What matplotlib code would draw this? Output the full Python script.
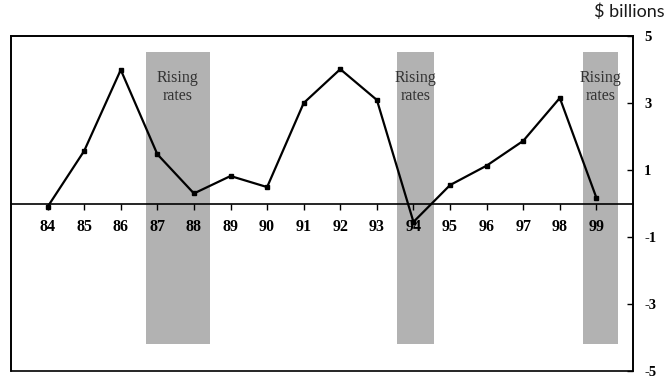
import matplotlib
matplotlib.use("Agg")
import matplotlib.pyplot as plt
from matplotlib.patches import Rectangle

# data
years = [84, 85, 86, 87, 88, 89, 90, 91, 92, 93, 94, 95, 96, 97, 98, 99]
values = [-0.1, 1.57, 3.99, 1.47, 0.3, 0.82, 0.49, 3.0, 4.01, 3.09,
          -0.55, 0.55, 1.13, 1.87, 3.15, 0.17]
year_labels = [str(y) for y in years]
rising_periods = [(86.68, 88.43), (93.56, 94.55), (98.62, 99.6)]
band_low, band_high = -4.19, 4.52
y_ticks = [5, 3, 1, -1, -3, -5]

serif = ["Liberation Serif", "DejaVu Serif"]

fig = plt.figure(figsize=(6.67, 3.81), dpi=100)
ax = fig.add_axes([11 / 667, 1 - 371 / 381, (633 - 11) / 667, (371 - 36) / 381])

for start, end in rising_periods:
    ax.fill_between([start, end], band_low, band_high, color="#b2b2b2", lw=0, zorder=1)
    ax.text((start + end) / 2, 3.48, "Rising\nrates", ha="center", va="center",
            family=serif, fontsize=11.5, color="#333333", linespacing=1.1, zorder=2)

ax.plot(years, values, color="black", lw=1.6, marker="s", markersize=3.2, zorder=4)

ax.set_xlim(83, 100)
ax.set_ylim(-5, 5)

# bottom spine becomes the zero line, the frame is drawn separately
ax.spines["bottom"].set_position(("data", 0))
for s in ax.spines.values():
    s.set_linewidth(1.2)
ax.add_patch(Rectangle((0, 0), 1, 1, transform=ax.transAxes, fill=False,
                       lw=1.2, edgecolor="black", clip_on=False, zorder=5))

# right-hand value axis
ax.yaxis.tick_right()
ax.set_yticks(y_ticks)
ax.set_yticklabels([str(t) for t in y_ticks], family=serif, fontweight="bold", fontsize=10.5)
ax.tick_params(axis="y", direction="in", length=4, width=1, pad=8)

# category axis on the zero line
ax.set_xticks(years)
ax.set_xticklabels(year_labels, family=serif, fontweight="bold", fontsize=11.5)
ax.tick_params(axis="x", direction="out", length=4, width=1, pad=7)
ax.xaxis.set_zorder(3)

fig.text(665 / 667, 1 - 12 / 381, "$ billions", ha="right", va="center",
         family=["Lato", "DejaVu Sans"], fontsize=13, color="#1a1a1a")

fig.savefig("out.png", dpi=100)
